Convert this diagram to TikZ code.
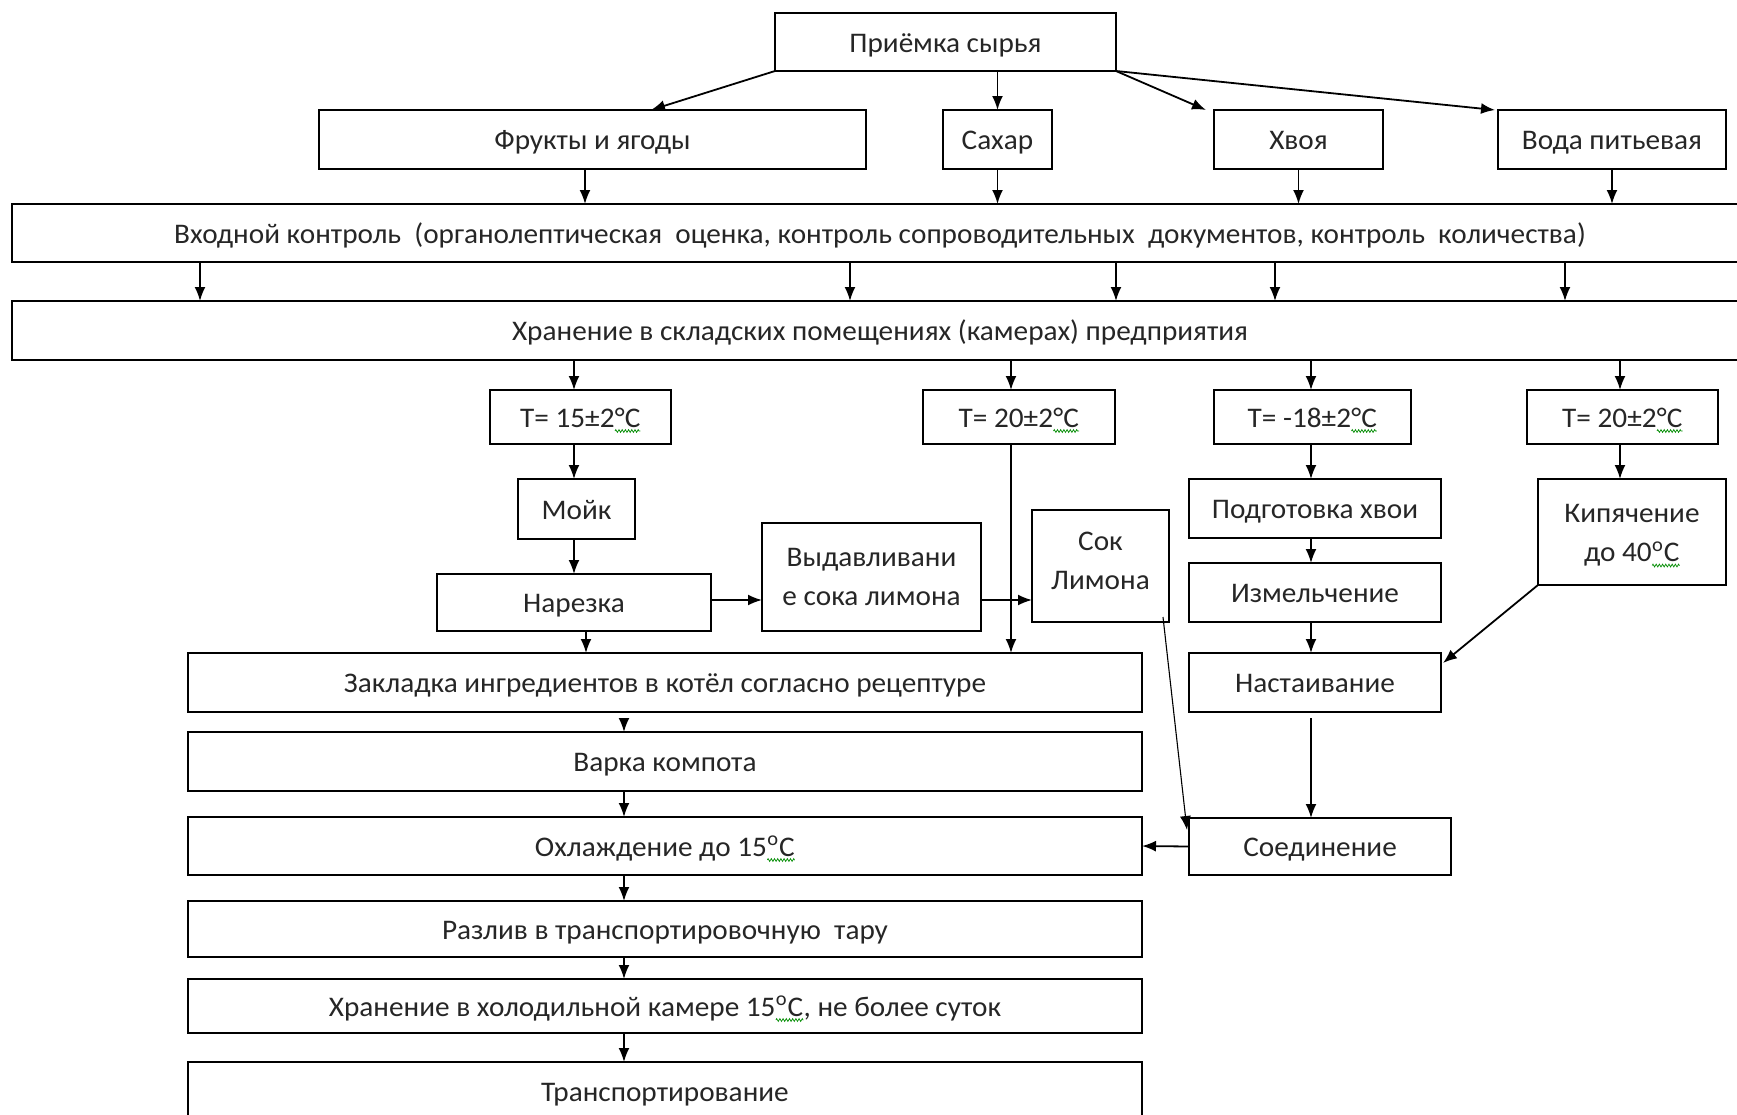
\documentclass[tikz,border=0pt]{standalone}
\usepackage{fontspec}
\setmainfont{Carlito}[FakeStretch=1.03]
\usetikzlibrary{arrows.meta,calc,decorations.pathmorphing}
\newcommand\sq[1]{\tikz[baseline=(sqw.base)]{\node[inner sep=0pt,outer sep=0pt,draw=none,minimum width=0pt,minimum height=0pt,text height={},text depth={},align=left](sqw){#1};\draw[green!55!black,line width=0.35pt,decorate,decoration={zigzag,amplitude=0.7pt,segment length=1.6pt}]([yshift=-1.8pt]sqw.base west)--([yshift=-1.8pt]sqw.base east);}}
\newcommand\bx[7][]{\node[boxst,#1,minimum width={(#5-#3)*0.5pt},minimum height={(#6-#4)*0.5pt}] (#2) at ({(#3+#5)/2},{(#4+#6)/2}) {#7};}
\begin{document}
\begin{tikzpicture}[x=0.5pt,y=-0.5pt,
 boxst/.style={draw,line width=0.9pt,inner sep=1pt,outer sep=0pt,align=center,text=black!85,
   text height=12pt,text depth=1.6pt,font=\fontsize{14.2}{19.8}\selectfont},
 multi/.style={text height={},text depth={}},
 arr/.style={-{Latex[length=7pt,width=5.5pt]},line width=0.9pt},
 thin arr/.style={-{Latex[length=7pt,width=5.5pt]},line width=0.55pt}]
\useasboundingbox[fill=white] (0,0) rectangle (1737,1115);
% top
\bx{priem}{775}{13}{1116}{71}{Приёмка сырья}
\bx{frukty}{319}{110}{866}{169}{Фрукты и ягоды}
\bx{sahar}{943}{110}{1052}{169}{Сахар}
\bx{hvoya}{1214}{110}{1383}{169}{Хвоя}
\bx{voda}{1498}{110}{1726}{169}{Вода питьевая}
\bx{vhod}{12}{204}{1748}{262}{Входной контроль\ \ (органолептическая\ \ оценка, контроль сопроводительных\ \ документов, контроль\ \ количества)}
\bx{hran}{12}{301}{1748}{360}{Хранение в складских помещениях (камерах) предприятия}
% temperature boxes
\bx{t15}{490}{390}{671}{444}{T= 15±2\sq{°C}}
\bx{t20a}{923}{390}{1115}{444}{T= 20±2\sq{°C}}
\bx{t18}{1214}{390}{1411}{444}{T= -18±2\sq{°C}}
\bx{t20b}{1527}{390}{1718}{444}{T= 20±2\sq{°C}}
% middle
\bx{mojk}{518}{479}{635}{539}{Мойк}
\bx{narez}{437}{574}{711}{631}{Нарезка}
\bx[multi]{vydav}{762}{523}{981}{631}{Выдавливани\\е сока лимона}
\bx[multi]{sok}{1032}{510}{1169}{622}{Сок\\Лимона\\[-14.6pt]\mbox{}}
\bx{podg}{1189}{479}{1441}{538}{Подготовка хвои}
\bx{izm}{1189}{563}{1441}{622}{Измельчение}
\bx{nast}{1189}{653}{1441}{712}{Настаивание}
\bx[multi]{kip}{1538}{479}{1726}{585}{\mbox{}\\[-7pt]Кипячение\\до 40\sq{\textsuperscript{o}C}}
\bx{soed}{1189}{818}{1451}{875}{Соединение}
% main column
\bx{zakl}{188}{653}{1142}{712}{Закладка ингредиентов в котёл согласно рецептуре}
\bx{varka}{188}{732}{1142}{791}{Варка компота}
\bx{ohl}{188}{817}{1142}{875}{Охлаждение до 15\sq{\textsuperscript{o}C}}
\bx{razl}{188}{901}{1142}{957}{Разлив в транспортировочную\ \ тару}
\bx{hrhol}{188}{979}{1142}{1033}{Хранение в холодильной камере 15\sq{\textsuperscript{o}C}, не более суток}
\bx{transp}{188}{1062}{1142}{1120}{Транспортирование}
% column coordinates
\coordinate (cF) at (585,0);
\coordinate (k1) at (200,0);
\coordinate (k2) at (850,0);
\coordinate (k3) at (1116,0);
\coordinate (k4) at (1275,0);
\coordinate (k5) at (1565,0);
\coordinate (m1) at (574,0);
\coordinate (m2) at (1011,0);
\coordinate (m3) at (1311,0);
\coordinate (m4) at (1620,0);
\coordinate (nz) at (586,0);
\coordinate (col) at (624,0);
\coordinate (row) at (0,600);
% arrows from Приёмка
\draw[arr] (priem.south west) -- ($(frukty.north west)+(332,0)$);
\draw[arr] (sahar.north |- priem.south) -- (sahar.north);
\draw[arr] (priem.south east) -- ($(hvoya.north west)+(-8,0)$);
\draw[arr] (priem.south east) -- ($(voda.north west)+(-3,0)$);
% into Входной
\draw[arr] (frukty.south -| cF) -- (vhod.north -| cF);
\draw[arr] (sahar.south) -- (vhod.north -| sahar.south);
\draw[arr] (hvoya.south) -- (vhod.north -| hvoya.south);
\draw[arr] (voda.south) -- (vhod.north -| voda.south);
% Входной -> Хранение
\foreach \k in {k1,k2,k3,k4,k5}{\draw[arr] (vhod.south -| \k) -- (hran.north -| \k);}
% Хранение -> T
\draw[arr] (hran.south -| m1) -- (t15.north -| m1);
\draw[arr] (hran.south -| m2) -- (t20a.north -| m2);
\draw[arr] (hran.south -| m3) -- (t18.north -| m3);
\draw[arr] (hran.south -| m4) -- (t20b.north -| m4);
% left branch
\draw[arr] (t15.south -| m1) -- (mojk.north -| m1);
\draw[arr] (mojk.south -| m1) -- (narez.north -| m1);
\draw[arr] (narez.south -| nz) -- (zakl.north -| nz);
\draw[arr] (narez.east |- row) -- (vydav.west |- row);
\draw[arr] (vydav.east |- row) -- (sok.west |- row);
\draw[arr] (t20a.south -| m2) -- (zakl.north -| m2);
\draw[thin arr] ($(sok.south east)+(-6,-5)$) -- ($(soed.north west)+(-2,12)$);
% right branch
\draw[arr] (t18.south -| m3) -- (podg.north -| m3);
\draw[arr] (podg.south -| m3) -- (izm.north -| m3);
\draw[arr] (izm.south -| m3) -- (nast.north -| m3);
\draw[arr] ($(nast.south -| m3)+(0,6)$) -- (soed.north -| m3);
\draw[arr] (t20b.south -| m4) -- (kip.north -| m4);
\draw[arr] (kip.south west) -- ($(nast.north east)+(2,10)$);
\draw[arr] (soed.west) -- (ohl.east);
% main column
\draw[arr] ($(zakl.south -| col)+(0,6)$) -- (varka.north -| col);
\draw[arr] (varka.south -| col) -- (ohl.north -| col);
\draw[arr] (ohl.south -| col) -- (razl.north -| col);
\draw[arr] (razl.south -| col) -- (hrhol.north -| col);
\draw[arr] (hrhol.south -| col) -- (transp.north -| col);
\end{tikzpicture}
\end{document}
